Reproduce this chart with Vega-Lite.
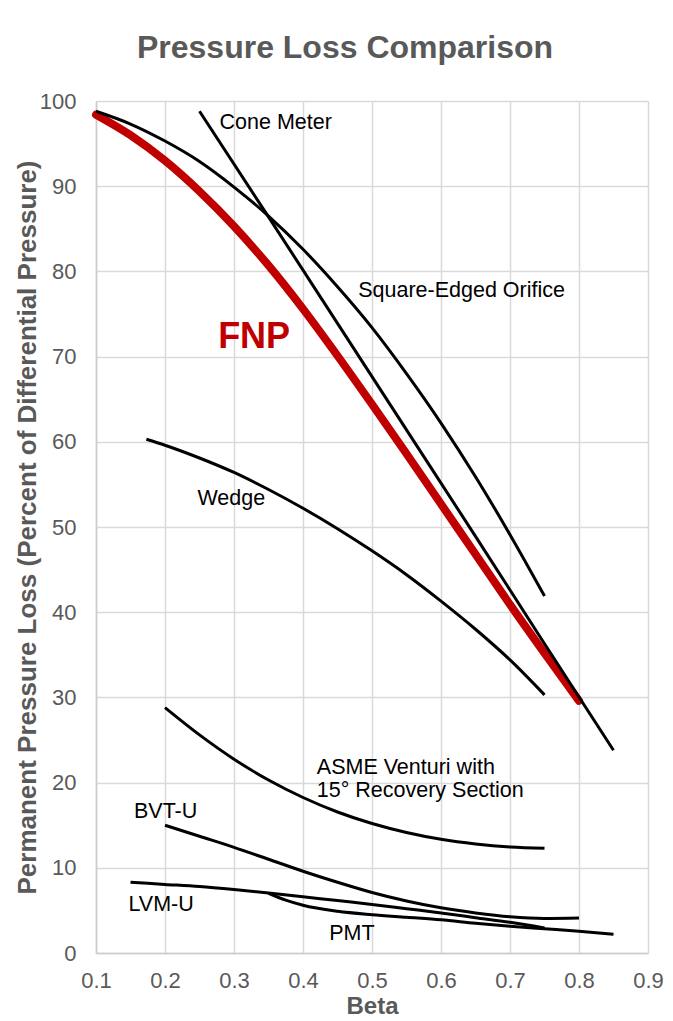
{
  "$schema": "https://vega.github.io/schema/vega-lite/v6.json",
  "width": 552,
  "height": 852,
  "autosize": {"type": "none"},
  "padding": {"left": 96, "top": 101, "right": 25, "bottom": 68},
  "background": "white",
  "config": {"view": {"stroke": null}, "font": "Liberation Sans"},
  "title": {
    "text": "Pressure Loss Comparison",
    "fontSize": 32,
    "fontWeight": "bold",
    "color": "#595959",
    "font": "Liberation Sans",
    "anchor": "middle",
    "dx": -27,
    "dy": 44,
    "offset": 44,
    "baseline": "alphabetic"
  },
  "datasets": {
    "curves": [
      {"series": "FNP", "beta": 0.1, "loss": 98.4},
      {"series": "FNP", "beta": 0.15, "loss": 96.0},
      {"series": "FNP", "beta": 0.2, "loss": 93.0},
      {"series": "FNP", "beta": 0.25, "loss": 89.4},
      {"series": "FNP", "beta": 0.3, "loss": 85.3},
      {"series": "FNP", "beta": 0.35, "loss": 80.7},
      {"series": "FNP", "beta": 0.4, "loss": 75.6},
      {"series": "FNP", "beta": 0.45, "loss": 70.1},
      {"series": "FNP", "beta": 0.5, "loss": 64.4},
      {"series": "FNP", "beta": 0.55, "loss": 58.6},
      {"series": "FNP", "beta": 0.6, "loss": 52.7},
      {"series": "FNP", "beta": 0.65, "loss": 46.8},
      {"series": "FNP", "beta": 0.7, "loss": 40.9},
      {"series": "FNP", "beta": 0.75, "loss": 35.2},
      {"series": "FNP", "beta": 0.8, "loss": 29.6},

      {"series": "Square-Edged Orifice", "beta": 0.1, "loss": 98.8},
      {"series": "Square-Edged Orifice", "beta": 0.15, "loss": 97.3},
      {"series": "Square-Edged Orifice", "beta": 0.2, "loss": 95.3},
      {"series": "Square-Edged Orifice", "beta": 0.25, "loss": 92.9},
      {"series": "Square-Edged Orifice", "beta": 0.3, "loss": 89.9},
      {"series": "Square-Edged Orifice", "beta": 0.35, "loss": 86.5},
      {"series": "Square-Edged Orifice", "beta": 0.4, "loss": 82.6},
      {"series": "Square-Edged Orifice", "beta": 0.45, "loss": 78.2},
      {"series": "Square-Edged Orifice", "beta": 0.5, "loss": 73.4},
      {"series": "Square-Edged Orifice", "beta": 0.55, "loss": 68.0},
      {"series": "Square-Edged Orifice", "beta": 0.6, "loss": 62.2},
      {"series": "Square-Edged Orifice", "beta": 0.65, "loss": 55.9},
      {"series": "Square-Edged Orifice", "beta": 0.7, "loss": 49.1},
      {"series": "Square-Edged Orifice", "beta": 0.75, "loss": 41.9},

      {"series": "Cone Meter", "beta": 0.25, "loss": 98.8},
      {"series": "Cone Meter", "beta": 0.35, "loss": 86.4},
      {"series": "Cone Meter", "beta": 0.45, "loss": 73.9},
      {"series": "Cone Meter", "beta": 0.55, "loss": 61.4},
      {"series": "Cone Meter", "beta": 0.65, "loss": 48.9},
      {"series": "Cone Meter", "beta": 0.75, "loss": 36.3},
      {"series": "Cone Meter", "beta": 0.85, "loss": 23.8},

      {"series": "Wedge", "beta": 0.173, "loss": 60.3},
      {"series": "Wedge", "beta": 0.2, "loss": 59.6},
      {"series": "Wedge", "beta": 0.25, "loss": 58.1},
      {"series": "Wedge", "beta": 0.3, "loss": 56.4},
      {"series": "Wedge", "beta": 0.35, "loss": 54.4},
      {"series": "Wedge", "beta": 0.4, "loss": 52.2},
      {"series": "Wedge", "beta": 0.45, "loss": 49.8},
      {"series": "Wedge", "beta": 0.5, "loss": 47.2},
      {"series": "Wedge", "beta": 0.55, "loss": 44.4},
      {"series": "Wedge", "beta": 0.6, "loss": 41.3},
      {"series": "Wedge", "beta": 0.65, "loss": 38.0},
      {"series": "Wedge", "beta": 0.7, "loss": 34.4},
      {"series": "Wedge", "beta": 0.75, "loss": 30.3},

      {"series": "ASME Venturi", "beta": 0.2, "loss": 28.8},
      {"series": "ASME Venturi", "beta": 0.25, "loss": 25.6},
      {"series": "ASME Venturi", "beta": 0.3, "loss": 22.75},
      {"series": "ASME Venturi", "beta": 0.35, "loss": 20.3},
      {"series": "ASME Venturi", "beta": 0.4, "loss": 18.25},
      {"series": "ASME Venturi", "beta": 0.45, "loss": 16.55},
      {"series": "ASME Venturi", "beta": 0.5, "loss": 15.2},
      {"series": "ASME Venturi", "beta": 0.55, "loss": 14.15},
      {"series": "ASME Venturi", "beta": 0.6, "loss": 13.35},
      {"series": "ASME Venturi", "beta": 0.65, "loss": 12.8},
      {"series": "ASME Venturi", "beta": 0.7, "loss": 12.45},
      {"series": "ASME Venturi", "beta": 0.75, "loss": 12.3},

      {"series": "BVT-U", "beta": 0.2, "loss": 15.0},
      {"series": "BVT-U", "beta": 0.25, "loss": 13.7},
      {"series": "BVT-U", "beta": 0.3, "loss": 12.4},
      {"series": "BVT-U", "beta": 0.35, "loss": 11.0},
      {"series": "BVT-U", "beta": 0.4, "loss": 9.6},
      {"series": "BVT-U", "beta": 0.45, "loss": 8.3},
      {"series": "BVT-U", "beta": 0.5, "loss": 7.1},
      {"series": "BVT-U", "beta": 0.55, "loss": 6.1},
      {"series": "BVT-U", "beta": 0.6, "loss": 5.3},
      {"series": "BVT-U", "beta": 0.65, "loss": 4.7},
      {"series": "BVT-U", "beta": 0.7, "loss": 4.25},
      {"series": "BVT-U", "beta": 0.75, "loss": 4.05},
      {"series": "BVT-U", "beta": 0.8, "loss": 4.1},

      {"series": "LVM-U", "beta": 0.15, "loss": 8.3},
      {"series": "LVM-U", "beta": 0.2, "loss": 8.05},
      {"series": "LVM-U", "beta": 0.25, "loss": 7.8},
      {"series": "LVM-U", "beta": 0.3, "loss": 7.45},
      {"series": "LVM-U", "beta": 0.35, "loss": 7.05},
      {"series": "LVM-U", "beta": 0.4, "loss": 6.6},
      {"series": "LVM-U", "beta": 0.45, "loss": 6.15},
      {"series": "LVM-U", "beta": 0.5, "loss": 5.7},
      {"series": "LVM-U", "beta": 0.55, "loss": 5.2},
      {"series": "LVM-U", "beta": 0.6, "loss": 4.7},
      {"series": "LVM-U", "beta": 0.65, "loss": 4.15},
      {"series": "LVM-U", "beta": 0.7, "loss": 3.6},
      {"series": "LVM-U", "beta": 0.75, "loss": 2.95},

      {"series": "PMT", "beta": 0.35, "loss": 7.0},
      {"series": "PMT", "beta": 0.375, "loss": 6.2},
      {"series": "PMT", "beta": 0.4, "loss": 5.6},
      {"series": "PMT", "beta": 0.45, "loss": 4.9},
      {"series": "PMT", "beta": 0.5, "loss": 4.5},
      {"series": "PMT", "beta": 0.55, "loss": 4.2},
      {"series": "PMT", "beta": 0.6, "loss": 3.9},
      {"series": "PMT", "beta": 0.65, "loss": 3.5},
      {"series": "PMT", "beta": 0.7, "loss": 3.15},
      {"series": "PMT", "beta": 0.75, "loss": 2.85},
      {"series": "PMT", "beta": 0.8, "loss": 2.55},
      {"series": "PMT", "beta": 0.85, "loss": 2.2}
    ],
    "labels": [
      {"label": "Cone Meter", "beta": 0.279, "loss": 96.7},
      {"label": "Square-Edged Orifice", "beta": 0.48, "loss": 77.0},
      {"label": "Wedge", "beta": 0.247, "loss": 52.6},
      {"label": "ASME Venturi with", "beta": 0.42, "loss": 21.0},
      {"label": "15° Recovery Section", "beta": 0.42, "loss": 18.35},
      {"label": "BVT-U", "beta": 0.155, "loss": 15.8},
      {"label": "LVM-U", "beta": 0.147, "loss": 4.97},
      {"label": "PMT", "beta": 0.438, "loss": 1.55}
    ],
    "fnpLabel": [
      {"label": "FNP", "beta": 0.277, "loss": 71.0}
    ]
  },
  "encoding": {
    "x": {
      "field": "beta",
      "type": "quantitative",
      "scale": {"domain": [0.1, 0.9], "nice": false, "zero": false},
      "axis": {
        "values": [0.1, 0.2, 0.3, 0.4, 0.5, 0.6, 0.7, 0.8, 0.9],
        "format": ".1f",
        "title": "Beta",
        "titleFont": "Liberation Sans",
        "titleFontSize": 24,
        "titleFontWeight": "bold",
        "titleColor": "#595959",
        "titlePadding": 3,
        "labelFont": "Liberation Sans",
        "labelFontSize": 22,
        "labelColor": "#595959",
        "labelPadding": 17,
        "labelFlush": false,
        "ticks": false,
        "domainColor": "#cccccc",
        "domainWidth": 1.5,
        "grid": true,
        "gridColor": "#d9d9d9",
        "gridWidth": 1.5
      }
    },
    "y": {
      "field": "loss",
      "type": "quantitative",
      "scale": {"domain": [0, 100], "nice": false},
      "axis": {
        "values": [0, 10, 20, 30, 40, 50, 60, 70, 80, 90, 100],
        "title": "Permanent Pressure Loss (Percent of Differential Pressure)",
        "titleFont": "Liberation Sans",
        "titleFontSize": 26,
        "titleFontWeight": "bold",
        "titleColor": "#595959",
        "titlePadding": -1,
        "labelFont": "Liberation Sans",
        "labelFontSize": 22,
        "labelColor": "#595959",
        "labelPadding": 20,
        "labelFlush": false,
        "ticks": false,
        "domainColor": "#cccccc",
        "domainWidth": 1.5,
        "grid": true,
        "gridColor": "#d9d9d9",
        "gridWidth": 1.5
      }
    }
  },
  "layer": [
    {
      "data": {"name": "curves"},
      "transform": [{"filter": "datum.series === 'FNP'"}],
      "mark": {"type": "line", "color": "#c00000", "strokeWidth": 8, "interpolate": "monotone", "strokeCap": "round"}
    },
    {
      "data": {"name": "curves"},
      "transform": [{"filter": "datum.series !== 'FNP'"}],
      "mark": {"type": "line", "color": "#000000", "strokeWidth": 3, "interpolate": "monotone"},
      "encoding": {"detail": {"field": "series", "type": "nominal"}}
    },
    {
      "data": {"name": "labels"},
      "mark": {"type": "text", "align": "left", "baseline": "alphabetic", "fontSize": 21.5, "font": "Liberation Sans", "color": "#000000"},
      "encoding": {"text": {"field": "label", "type": "nominal"}}
    },
    {
      "data": {"name": "fnpLabel"},
      "mark": {"type": "text", "align": "left", "baseline": "alphabetic", "fontSize": 36, "fontWeight": "bold", "font": "Liberation Sans", "color": "#c00000"},
      "encoding": {"text": {"field": "label", "type": "nominal"}}
    }
  ]
}
